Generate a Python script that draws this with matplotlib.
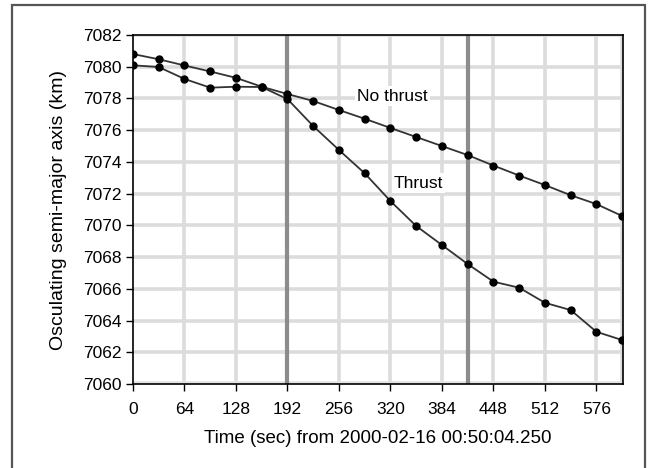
import numpy as np
import matplotlib.pyplot as plt
from matplotlib.patches import Rectangle

plt.rcParams['font.family'] = ['Liberation Sans', 'DejaVu Sans']

# sample times (sec) and osculating semi-major axis (km)
t = [0, 32, 64, 96, 128, 160, 192, 224, 256, 288, 320, 352, 384, 416,
     448, 480, 512, 544, 576, 608]
sma_no_thrust = [7080.80, 7080.47, 7080.08, 7079.70, 7079.30, 7078.74,
                 7078.28, 7077.84, 7077.27, 7076.72, 7076.14, 7075.57,
                 7075.00, 7074.43, 7073.77, 7073.14, 7072.54, 7071.90,
                 7071.34, 7070.59]
sma_thrust = [7080.09, 7079.98, 7079.23, 7078.68, 7078.74, 7078.72,
              7077.96, 7076.26, 7074.75, 7073.28, 7071.53, 7069.96,
              7068.76, 7067.56, 7066.45, 7066.07, 7065.12, 7064.66,
              7063.29, 7062.77]
burn_start, burn_end = 192, 416
xticks = [0, 64, 128, 192, 256, 320, 384, 448, 512, 576]
yticks = list(range(7060, 7083, 2))

fig = plt.figure(figsize=(6.52, 4.68), dpi=100)
fig.patches.append(Rectangle((12 / 652, -0.05), 633 / 652, 1.05 - 5 / 468,
                             transform=fig.transFigure, fill=False,
                             edgecolor='#555555', linewidth=1.6))
ax = fig.add_axes([133 / 652, 1 - 384 / 468, 490 / 652, 349 / 468])

# light grid
for x in [64, 128, 256, 320, 384, 448, 512, 576, 608]:
    ax.axvline(x, color='#dcdcdc', linewidth=2.6, zorder=0)
for y in yticks[1:]:
    ax.axhline(y, color='#dcdcdc', linewidth=2.6, zorder=0)
ax.axhline(7060.15, color='#e3e3e3', linewidth=2, zorder=0)
# burn start / end
for x in [burn_start, burn_end]:
    ax.axvline(x, color='#8c8c8c', linewidth=3, zorder=1)

ax.plot(t, sma_no_thrust, '-o', color='#333333', linewidth=1.3,
        markersize=5, markerfacecolor='black', markeredgecolor='black', zorder=3)
ax.plot(t, sma_thrust, '-o', color='#333333', linewidth=1.3,
        markersize=5, markerfacecolor='black', markeredgecolor='black', zorder=3)

ax.text(279, 7078.15, 'No thrust', fontsize=12.5, va='center', ha='left',
        bbox=dict(facecolor='white', edgecolor='none', pad=1.5), zorder=4)
ax.text(324, 7072.67, 'Thrust', fontsize=12.5, va='center', ha='left',
        bbox=dict(facecolor='white', edgecolor='none', pad=1.5), zorder=4)

ax.set_xlim(0, 609)
ax.set_ylim(7060, 7082)
ax.set_xticks(xticks)
ax.set_yticks(yticks)
ax.tick_params(labelsize=12.5, direction='out', length=5, width=1, pad=8)
ax.tick_params(axis='y', pad=3)
ax.set_xlabel('Time (sec) from 2000-02-16 00:50:04.250', fontsize=13.5, labelpad=9)
ax.set_ylabel('Osculating semi-major axis (km)', fontsize=14, labelpad=12)
for s in ax.spines.values():
    s.set_linewidth(1.2)

fig.savefig('out.png', dpi=100)
